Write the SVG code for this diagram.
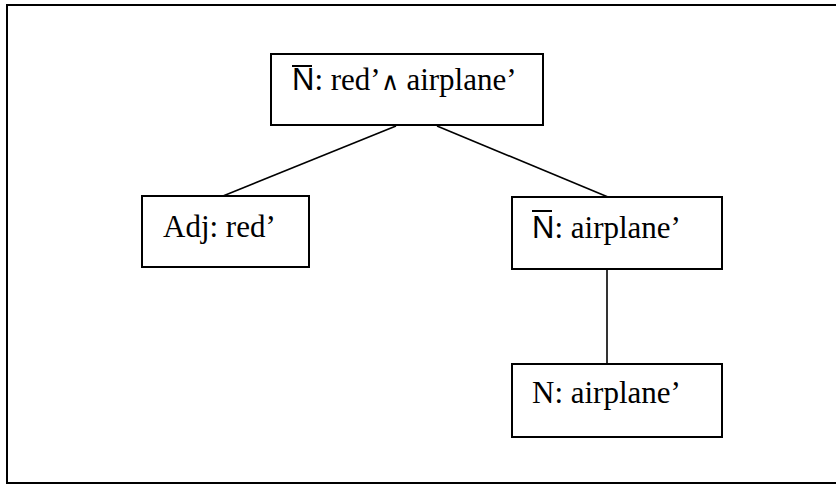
<svg xmlns="http://www.w3.org/2000/svg" width="836" height="486" viewBox="0 0 836 486">
  <style>
    .box { fill: #fff; stroke: #000; stroke-width: 2; }
    .edge { stroke: #000; stroke-width: 1.6; fill: none; }
    .lbl { font-family: "Liberation Serif", "Times New Roman", serif; font-size: 31px; fill: #000; }
    .sans { font-family: "Liberation Sans", Arial, sans-serif; }
    .wedge { font-family: "DejaVu Sans", sans-serif; font-weight: 200; font-size: 25px; }
    .bar { stroke: #000; stroke-width: 2; }
  </style>
  <rect x="0" y="0" width="836" height="486" fill="#fff"/>
  <!-- outer frame (right side runs past the canvas edge) -->
  <rect x="7" y="5" width="832" height="478" fill="none" stroke="#000" stroke-width="2"/>

  <g id="connectors">
    <line class="edge" x1="396" y1="126" x2="223" y2="196"/>
    <line class="edge" x1="437" y1="126" x2="608" y2="197"/>
    <line class="edge" x1="607" y1="269" x2="607" y2="364"/>
  </g>

  <g id="nbar-top">
    <rect class="box" x="271" y="54" width="272" height="71"/>
    <line class="bar" x1="292" y1="66" x2="312" y2="66"/>
    <text class="lbl" x="292" y="90"><tspan class="sans">N</tspan>: red’<tspan class="wedge">∧</tspan> airplane’</text>
  </g>

  <g id="adj">
    <rect class="box" x="142" y="196" width="167" height="71"/>
    <text class="lbl" x="163" y="237">Adj: red’</text>
  </g>

  <g id="nbar-airplane">
    <rect class="box" x="512" y="197" width="210" height="72"/>
    <line class="bar" x1="532" y1="211" x2="552" y2="211"/>
    <text class="lbl" x="532" y="238"><tspan class="sans">N</tspan>: airplane’</text>
  </g>

  <g id="n-airplane">
    <rect class="box" x="512" y="364" width="210" height="73"/>
    <text class="lbl" x="532" y="403">N: airplane’</text>
  </g>
</svg>
